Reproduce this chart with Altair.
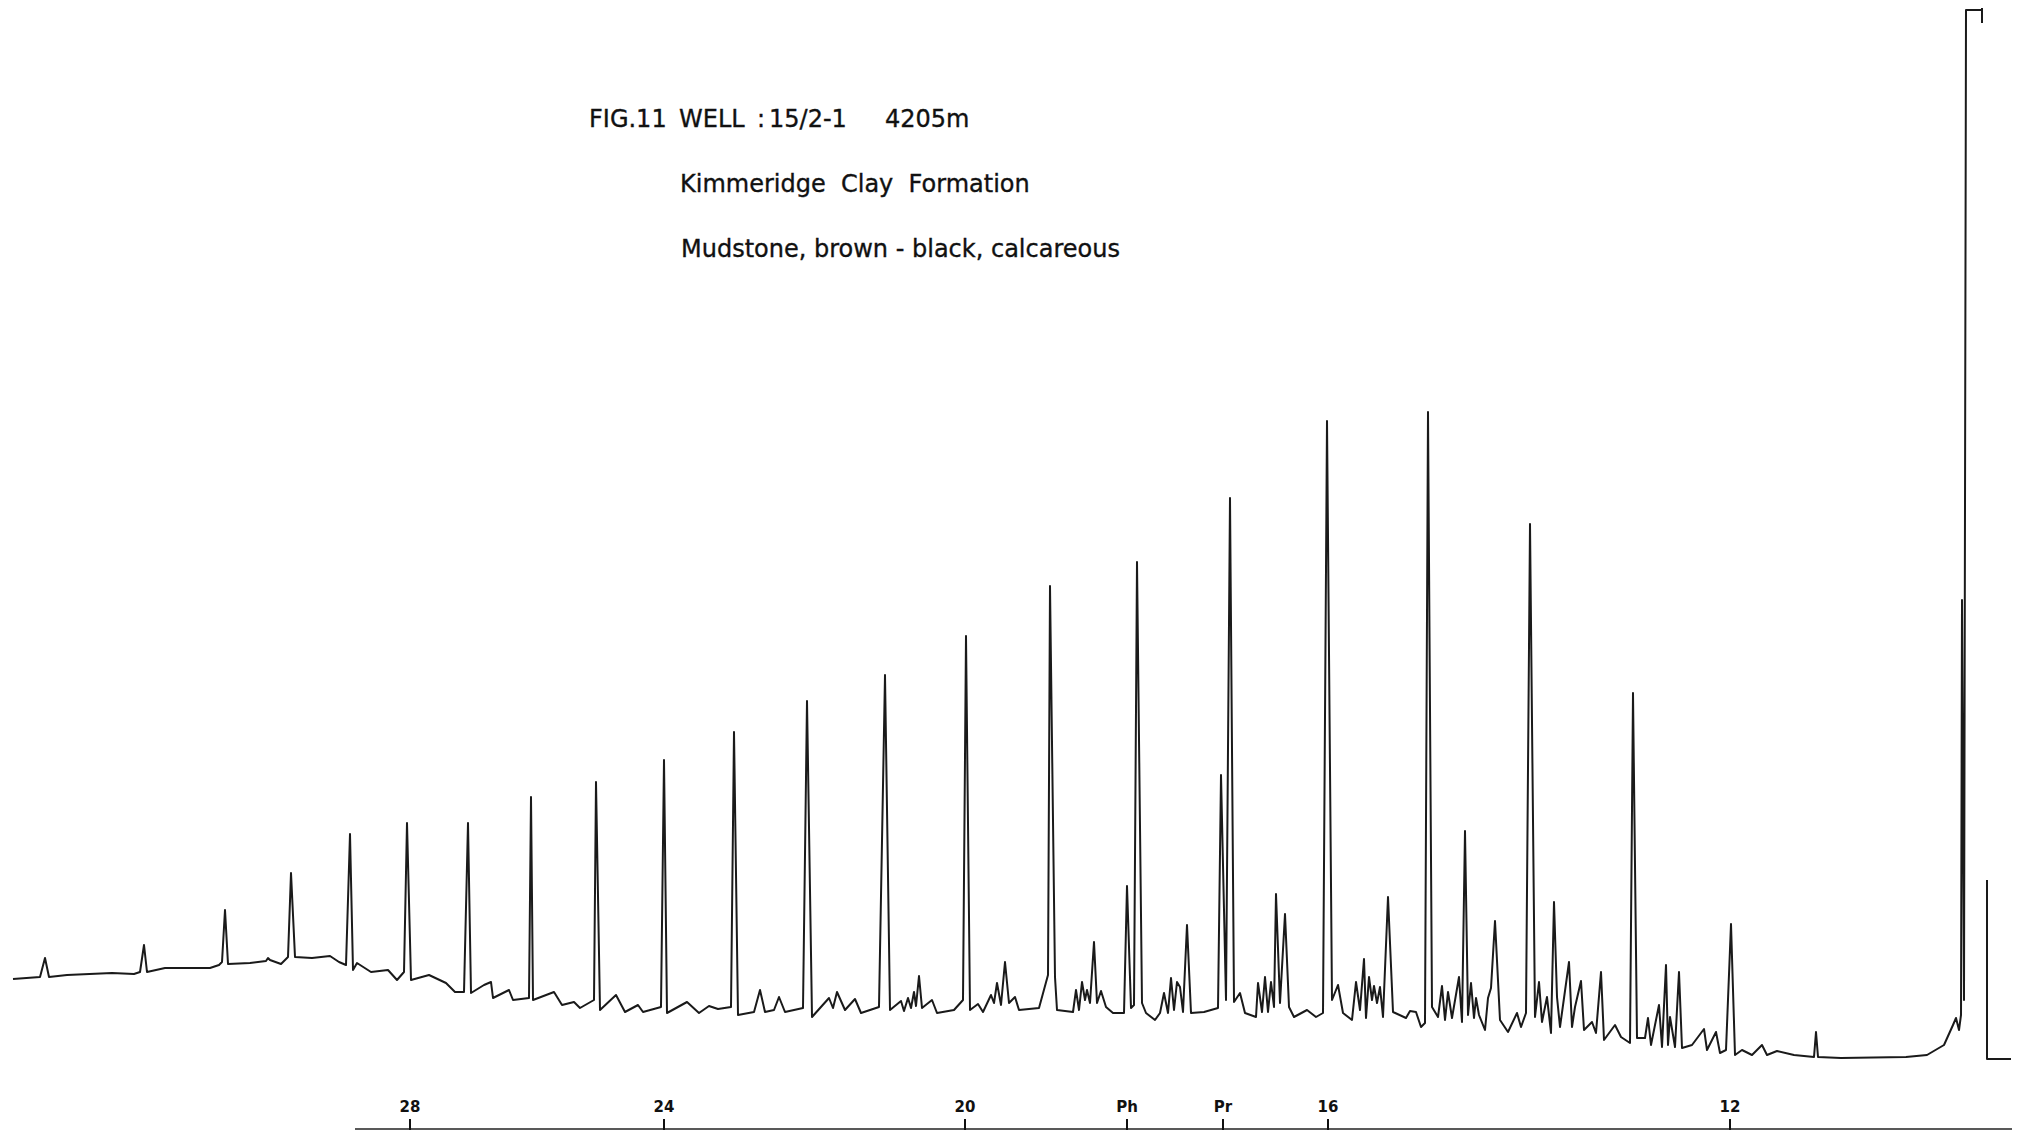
import altair as alt
import pandas as pd

# ---------------- data ----------------
# retention (arbitrary units, left -> right) and detector response
main_x = [13, 40, 45, 49, 67, 112, 134, 140, 144, 147, 165, 179, 210, 219, 222, 225, 228, 250, 266, 268, 270, 281, 288, 291, 295, 312, 330, 339, 346, 350, 353, 357, 371, 388, 397, 404, 407, 411, 429, 446, 455, 464, 468, 471, 484, 491, 493, 509, 513, 529, 531, 533, 554, 562, 574, 580, 594, 596, 600, 616, 625, 638, 643, 661, 664, 667, 687, 699,
          709, 718, 731, 734, 738, 754, 760, 765, 774, 779, 785, 803, 807, 812, 829, 833, 837, 845, 855, 861, 879, 885, 890, 901, 904, 908, 911, 914, 916, 919, 922, 932, 937, 954, 963, 966, 970, 978, 983, 991, 994, 997, 1001, 1005, 1009, 1015, 1019, 1039, 1048, 1050, 1055, 1057, 1073, 1076, 1079, 1082, 1085, 1087, 1090, 1094, 1097, 1101, 1106, 1113, 1124, 1127, 1131, 1134, 1137, 1142, 1146, 1155, 1160, 1164, 1168, 1171, 1174, 1177, 1180, 1183, 1187, 1191, 1204, 1218, 1221, 1226, 1230, 1234, 1240, 1245, 1256, 1258, 1262, 1265, 1268, 1271, 1274, 1276, 1280, 1285, 1289, 1294, 1307, 1316, 1323, 1327, 1332, 1338, 1343, 1352, 1356, 1360, 1364, 1366, 1369, 1372, 1374, 1377, 1380, 1383, 1388, 1393, 1406, 1410, 1416, 1421, 1425, 1428, 1432, 1438, 1442, 1445, 1448, 1452, 1459, 1462, 1465, 1468, 1471, 1474, 1476, 1479, 1485, 1488, 1491, 1495, 1500, 1508, 1517, 1521, 1526, 1530, 1535, 1539, 1542, 1547, 1551, 1554, 1557, 1560, 1569, 1572, 1575, 1581, 1584, 1592, 1596, 1601, 1604, 1615, 1621, 1630, 1633, 1637, 1645, 1648, 1651, 1659, 1662, 1666, 1668, 1670, 1675, 1679, 1682, 1692, 1704, 1707, 1716, 1720, 1726, 1731, 1735, 1742, 1752, 1762, 1767, 1777, 1794, 1814, 1816, 1818, 1841, 1906, 1927, 1944, 1953, 1956, 1959, 1961, 1962, 1964, 1966, 1982]
main_r = [159, 161, 180, 161, 163, 165, 164, 166, 193, 166, 170, 170, 170, 173, 176, 228, 174, 175, 177, 180, 178, 174, 181, 265, 181, 180, 182, 176, 173, 304, 168, 175, 166, 168, 158, 166, 315, 158, 163, 155, 146, 146, 315, 145, 153, 156, 140, 148, 138, 140, 341, 138, 146, 133, 136, 130, 138, 356, 128, 143, 126, 133, 126, 131, 378, 125, 136, 125,
          132, 129, 131, 406, 123, 126, 148, 126, 128, 141, 126, 130, 437, 121, 140, 130, 146, 128, 139, 125, 131, 463, 128, 137, 127, 140, 130, 146, 132, 162, 130, 138, 125, 128, 138, 502, 128, 134, 126, 143, 135, 155, 133, 176, 135, 141, 128, 130, 163, 552, 161, 128, 126, 148, 128, 156, 138, 148, 135, 196, 135, 147, 131, 125, 125, 252, 130, 133, 576, 135, 125, 118, 125, 145, 125, 160, 128, 156, 151, 126, 213, 125, 126, 130, 363, 138, 640, 136, 145, 125, 121, 155, 126, 161, 126, 156, 131, 244, 135, 224, 131, 121, 128, 121, 125, 717, 138, 153, 125, 118, 156, 128, 179, 120, 161, 138, 152, 135, 151, 121, 241, 126, 120, 127, 126, 111, 115, 726, 131, 121, 152, 118, 146, 120, 161, 116, 307, 123, 155, 120, 140, 123, 108, 140, 150, 217, 118, 106, 125, 111, 125, 614, 121, 156, 116, 141, 105, 236, 141, 111, 176, 111, 131, 157, 108, 116, 105, 166, 98, 113, 101, 95, 445, 100, 100, 120, 93, 133, 91, 173, 93, 121, 91, 166, 90, 93, 109, 88, 106, 85, 88, 214, 83, 88, 83, 93, 83, 87, 83, 81, 106, 81, 80, 81, 83, 93, 113, 120, 108, 123, 538, 138, 1128, 1128]
flag_x = [1982, 1982]
flag_r = [1133, 1115]
tail_x = [1987, 1987, 2011]
tail_r = [258, 79, 79]

tick_labels = ["28", "24", "20", "Ph", "Pr", "16", "12"]
tick_pos = [410, 664, 965, 1127, 1223, 1328, 1730]

title_parts = ["FIG.11", "WELL", ":", "15/2-1", "4205m"]
subtitle_lines = ["Kimmeridge\u00a0 Clay\u00a0 Formation",
                  "Mudstone, brown - black, calcareous"]

# ---------------- layout ----------------
M = 8                      # page margin
W, H = 2004, 1122          # plot area = page 8..2012 x 8..1130
def px(x):                 # reference x -> plot pixel
    return x - M
def py(y):                 # reference y -> plot pixel
    return y - M

rows = []
i = 0
for seg, xs, rs in (("main", main_x, main_r), ("flag", flag_x, flag_r), ("tail", tail_x, tail_r)):
    for xv, rv in zip(xs, rs):
        rows.append({"retention": xv, "response": rv, "seg": seg, "i": i})
        i += 1
trace = pd.DataFrame(rows)

xscale = alt.Scale(domain=[M, M + W], nice=False, zero=False)
yscale = alt.Scale(domain=[8, 1130], nice=False, zero=False)

line = alt.Chart(trace).mark_line(color="#1a1a1a", strokeWidth=2, strokeJoin="round").encode(
    x=alt.X("retention:Q", scale=xscale, axis=None),
    y=alt.Y("response:Q", scale=yscale, axis=None),
    detail="seg:N",
    order=alt.Order("i:Q"),
)

ticks_df = pd.DataFrame({"label": tick_labels, "pos": tick_pos})
tick_rules = alt.Chart(ticks_df).mark_rule(color="#111", strokeWidth=2).encode(
    x=alt.X("pos:Q", scale=xscale, axis=None),
    y=alt.value(py(1119)),
    y2=alt.value(py(1130)),
)
tick_text = alt.Chart(ticks_df).mark_text(
    font="DejaVu Sans", fontWeight="bold", fontSize=15, color="#111", baseline="alphabetic", align="center"
).encode(
    x=alt.X("pos:Q", scale=xscale, axis=None),
    y=alt.value(py(1112)),
    text="label:N",
)
baseline_rule = alt.Chart(pd.DataFrame({"a": [0]})).mark_rule(color="#222", strokeWidth=1.5).encode(
    x=alt.value(px(355)), x2=alt.value(px(2012)), y=alt.value(py(1129))
)

text_style = dict(font="DejaVu Sans", fontSize=24, color="#111", align="left",
                  baseline="alphabetic", stroke="#111", strokeWidth=0.35)
title_x = [589, 679, 757, 769, 885]
texts = []
for t, tx in zip(title_parts, title_x):
    texts.append(
        alt.Chart(pd.DataFrame({"t": [t]})).mark_text(**text_style)
        .encode(x=alt.value(px(tx)), y=alt.value(py(127)), text="t:N")
    )
for t, (tx, ty) in zip(subtitle_lines, [(680, 192), (681, 257)]):
    texts.append(
        alt.Chart(pd.DataFrame({"t": [t]})).mark_text(**text_style)
        .encode(x=alt.value(px(tx)), y=alt.value(py(ty)), text="t:N")
    )

chart = alt.layer(line, baseline_rule, tick_rules, tick_text, *texts).properties(
    width=W, height=H, padding=0, autosize=alt.AutoSizeParams(type="none"), background="white"
).configure_view(stroke=None)

chart.save("out.html", embed_options={"renderer": "svg", "actions": False})
